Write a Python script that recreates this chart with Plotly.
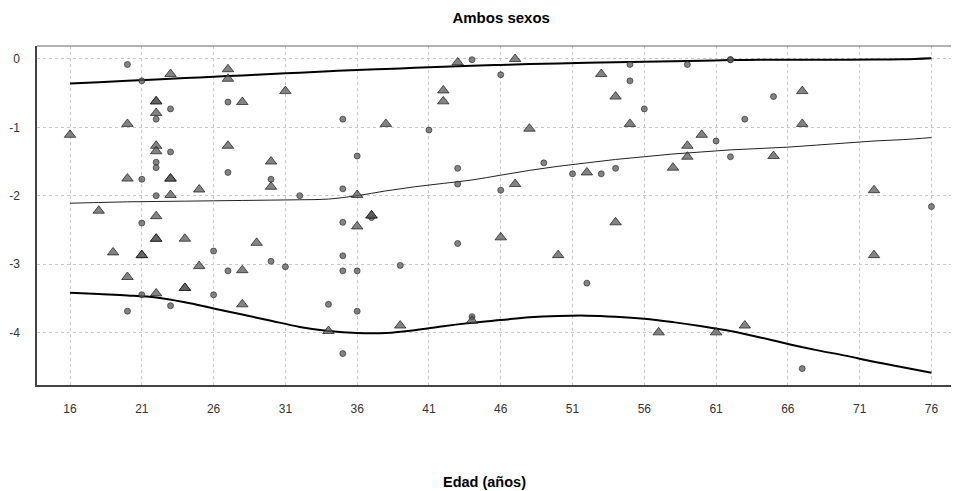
import plotly.graph_objects as go

# Circle points (age, value)
circ_age = [20, 21, 22, 23, 27, 22, 21, 22, 22, 23, 27, 30, 32, 21, 26, 27, 30, 31, 21, 26, 23, 20,
            44, 46, 55, 35, 41, 36, 43, 49, 51, 53, 54, 35, 43, 46, 37, 35, 43, 35, 35, 36, 39, 52, 34, 36, 44, 35,
            55, 59, 62, 62, 56, 65, 63, 61, 62, 76, 67]
circ_val = [-0.08, -0.32, -0.88, -0.73, -0.63, -1.51, -1.76, -1.59, -2.0, -1.36, -1.66, -1.76, -2.0, -2.40, -2.81, -3.10, -2.96, -3.04, -3.45, -3.45, -3.61, -3.69,
            -0.01, -0.23, -0.32, -0.88, -1.04, -1.42, -1.60, -1.52, -1.68, -1.68, -1.60, -1.90, -1.83, -1.92, -2.32, -2.39, -2.70, -2.88, -3.10, -3.10, -3.02, -3.28, -3.59, -3.69, -3.77, -4.31,
            -0.08, -0.08, -0.01, -0.01, -0.73, -0.55, -0.88, -1.20, -1.43, -2.16, -4.53]

# Triangle points (age, value)
tri_age = [23, 27, 27, 31, 22, 22, 28, 22, 20, 16, 22, 22, 27, 30, 20, 23, 23, 30, 25, 23, 18, 22,
           22, 22, 24, 29, 19, 21, 21, 25, 28, 20, 22, 24, 24, 28,
           43, 47, 53, 42, 42, 54, 38, 48, 55, 52, 36, 47, 37, 37, 36, 46, 50, 54, 34, 39, 44,
           67, 67, 60, 59, 59, 65, 58, 72, 72, 57, 61, 63]
tri_val = [-0.22, -0.15, -0.29, -0.47, -0.62, -0.62, -0.63, -0.79, -0.95, -1.11, -1.27, -1.35, -1.27, -1.50, -1.75, -1.75, -1.75, -1.87, -1.91, -1.99, -2.22, -2.30,
           -2.63, -2.63, -2.63, -2.69, -2.83, -2.87, -2.87, -3.03, -3.09, -3.19, -3.43, -3.35, -3.35, -3.59,
           -0.05, 0.0, -0.22, -0.46, -0.62, -0.55, -0.95, -1.02, -0.95, -1.66, -1.99, -1.83, -2.29, -2.29, -2.45, -2.61, -2.87, -2.39, -3.98, -3.90, -3.83,
           -0.47, -0.95, -1.11, -1.27, -1.43, -1.42, -1.59, -1.92, -2.87, -4.00, -4.00, -3.90]

# Curves
curve_age = [16, 18, 20, 22, 24, 26, 28, 30, 32, 34, 36, 38, 40, 42, 44, 46, 48, 50, 52, 54, 56, 58, 60, 62, 64, 66, 68, 70, 72, 74, 76]
upper_val = [-0.36, -0.34, -0.32, -0.30, -0.28, -0.26, -0.24, -0.22, -0.20, -0.18, -0.16, -0.145, -0.13, -0.115, -0.10, -0.087, -0.075, -0.065, -0.055, -0.047, -0.04, -0.032,
             -0.025, -0.015, -0.012, -0.01, -0.01, -0.01, -0.008, -0.005, 0.01]
mid_val = [-2.11, -2.10, -2.09, -2.085, -2.08, -2.075, -2.07, -2.065, -2.06, -2.05, -2.0, -1.93, -1.87, -1.82, -1.77, -1.70, -1.63, -1.57, -1.52, -1.47, -1.43, -1.39,
           -1.36, -1.33, -1.31, -1.29, -1.26, -1.23, -1.20, -1.18, -1.15]
low_val = [-3.42, -3.44, -3.46, -3.49, -3.56, -3.65, -3.74, -3.83, -3.92, -3.98, -4.01, -4.01, -3.97, -3.91, -3.86, -3.82, -3.78, -3.76, -3.755, -3.77, -3.80, -3.85,
           -3.91, -3.98, -4.07, -4.17, -4.26, -4.34, -4.43, -4.51, -4.59]

x_ticks = [16, 21, 26, 31, 36, 41, 46, 51, 56, 61, 66, 71, 76]
y_ticks = [0, -1, -2, -3, -4]

fig = go.Figure()
fig.add_trace(go.Scatter(x=curve_age, y=upper_val, mode="lines", line=dict(color="black", width=2), line_shape="spline", hoverinfo="skip"))
fig.add_trace(go.Scatter(x=curve_age, y=mid_val, mode="lines", line=dict(color="#222222", width=1), line_shape="spline", hoverinfo="skip"))
fig.add_trace(go.Scatter(x=curve_age, y=low_val, mode="lines", line=dict(color="black", width=2), line_shape="spline", hoverinfo="skip"))
fig.add_trace(go.Scatter(x=circ_age, y=circ_val, mode="markers",
                         marker=dict(symbol="circle", size=6, color="rgba(90,90,90,0.75)", line=dict(color="rgba(40,40,40,0.8)", width=0.8))))
fig.add_trace(go.Scatter(x=tri_age, y=tri_val, mode="markers",
                         marker=dict(symbol="triangle-up", size=10, color="rgba(90,90,90,0.75)", line=dict(color="rgba(20,20,20,0.85)", width=0.8))))

# The page body has an 8px margin, so the figure is sized/positioned to compensate.
W, H = 951, 483
fig.update_layout(
    width=W, height=H,
    margin=dict(l=29, r=1, t=38, b=106, autoexpand=False),
    paper_bgcolor="white", plot_bgcolor="white",
    showlegend=False,
    font=dict(family="Liberation Sans, Arial, sans-serif", size=12, color="#333333"),
    title=dict(text="<b>Ambos sexos</b>", x=0.504, xanchor="center", xref="paper",
               y=1 - 10 / H, yref="container", yanchor="middle",
               font=dict(size=15, color="black")),
    xaxis=dict(range=[13.7, 77.85], tickvals=x_ticks, ticktext=[str(v) for v in x_ticks],
               showgrid=True, gridcolor="#c8c8c8", griddash="dot", gridwidth=1,
               zeroline=False, showline=True, linecolor="#444444", linewidth=1.5,
               ticks="", ticklabelstandoff=12, automargin=False, tickfont=dict(size=12, color="#333333")),
    yaxis=dict(range=[-4.77, 0.19], tickvals=y_ticks, ticktext=[str(v) for v in y_ticks],
               showgrid=True, gridcolor="#c8c8c8", griddash="dot", gridwidth=1,
               zeroline=False, showline=True, linecolor="#444444", linewidth=1.5,
               ticks="", ticklabelstandoff=13, automargin=False, tickfont=dict(size=12, color="#333333")),
    annotations=[dict(text="<b>Edad (años)</b>", x=0.486, xref="paper", y=0.0, yref="paper",
                      yshift=-97, showarrow=False, xanchor="center", yanchor="middle",
                      font=dict(size=14.5, color="black"))],
    shapes=[dict(type="line", xref="paper", yref="paper", x0=0, x1=1, y0=1, y1=1,
                 line=dict(color="#999999", width=1.5))],
)

fig.write_html("out.html")
